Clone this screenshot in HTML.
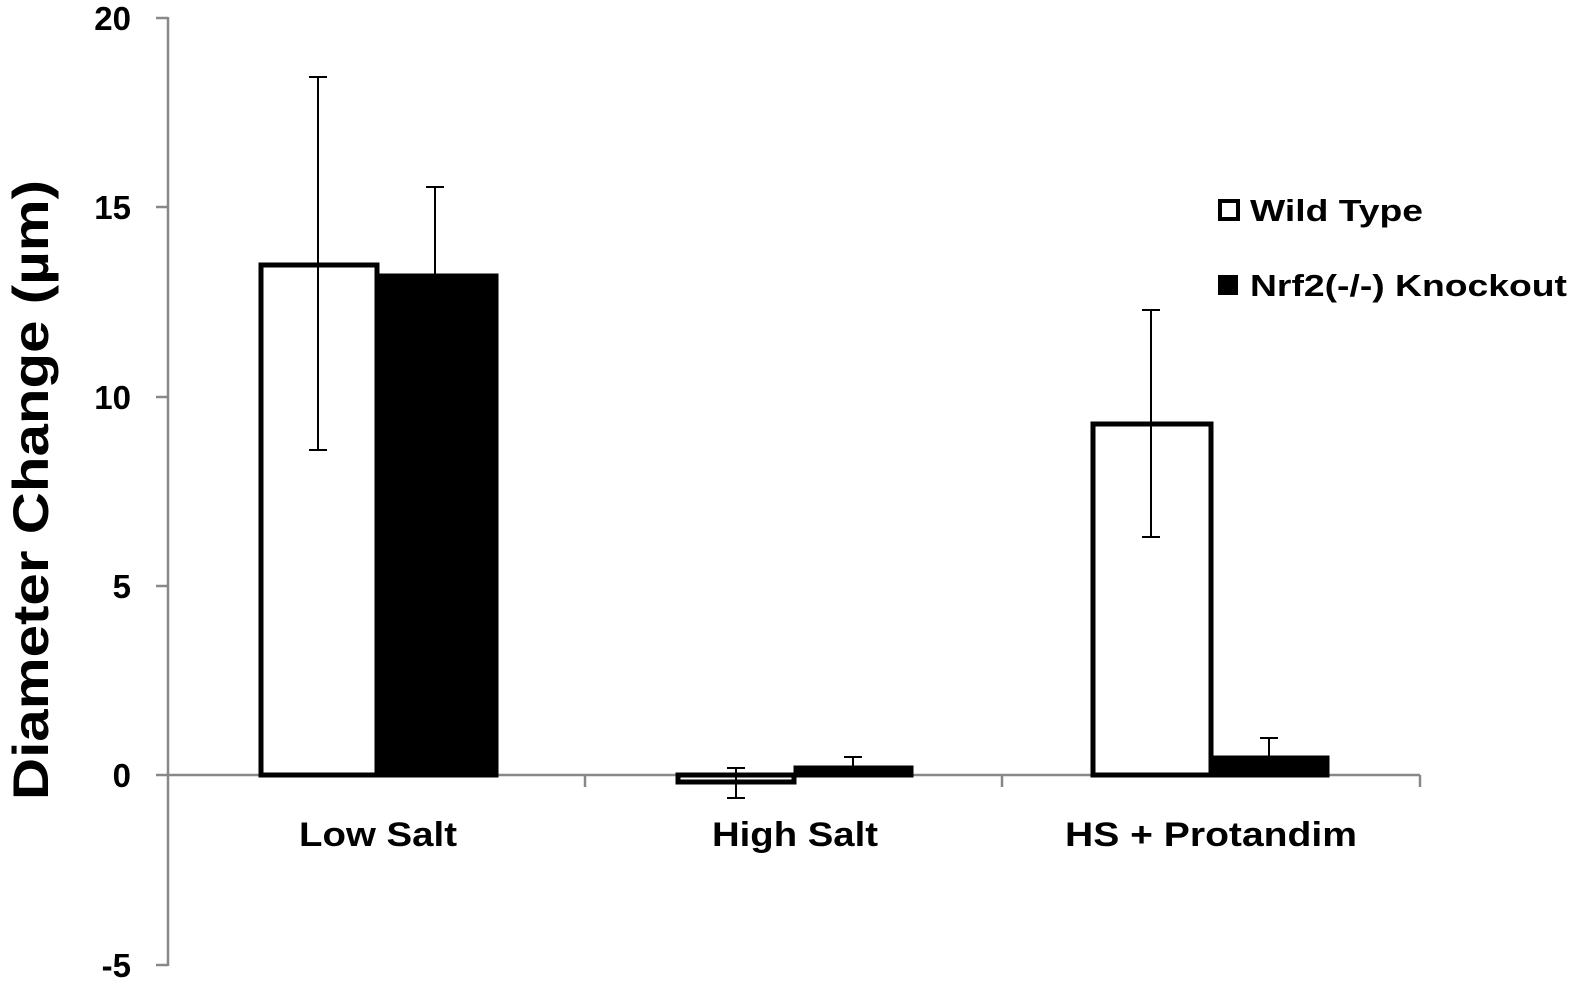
<!DOCTYPE html>
<html><head><meta charset="utf-8"><style>body{margin:0;background:#fff}svg{display:block}</style></head>
<body>
<svg width="1579" height="987" viewBox="0 0 1579 987" xmlns="http://www.w3.org/2000/svg" font-family="Liberation Sans, sans-serif" font-weight="bold">
<g stroke="#888" stroke-width="2.5" fill="none">
<line x1="168" y1="17" x2="168" y2="966"/>
<line x1="156" y1="18" x2="168" y2="18"/>
<line x1="156" y1="207" x2="168" y2="207"/>
<line x1="156" y1="397" x2="168" y2="397"/>
<line x1="156" y1="586" x2="168" y2="586"/>
<line x1="156" y1="775" x2="168" y2="775"/>
<line x1="156" y1="965" x2="168" y2="965"/>
<line x1="168" y1="775" x2="1420" y2="775"/>
<line x1="585" y1="775" x2="585" y2="787"/>
<line x1="1002" y1="775" x2="1002" y2="787"/>
<line x1="1420" y1="775" x2="1420" y2="787"/>
</g>
<g font-size="33" text-anchor="end" fill="#000">
<text x="131" y="30">20</text><text x="131" y="219">15</text><text x="131" y="409">10</text>
<text x="131" y="598">5</text><text x="131" y="787">0</text><text x="131" y="977">-5</text>
</g>
<text transform="translate(48,490) rotate(-90)" font-size="50" text-anchor="middle" textLength="620" lengthAdjust="spacingAndGlyphs">Diameter Change (µm)</text>
<g font-size="34" text-anchor="middle">
<text x="378" y="846" textLength="158" lengthAdjust="spacingAndGlyphs">Low Salt</text>
<text x="795" y="846" textLength="166" lengthAdjust="spacingAndGlyphs">High Salt</text>
<text x="1211" y="846" textLength="292" lengthAdjust="spacingAndGlyphs">HS + Protandim</text>
</g>
<g stroke="#000" stroke-width="5">
<rect x="261" y="265" width="116" height="510" fill="#fff"/>
<rect x="378" y="276" width="118" height="499" fill="#000"/>
<rect x="678" y="775" width="116" height="7" fill="#fff"/>
<rect x="796" y="768" width="115" height="7" fill="#000"/>
<rect x="1093" y="424" width="118" height="351" fill="#fff"/>
<rect x="1212" y="758" width="115" height="17" fill="#000"/>
</g>
<g stroke="#000" stroke-width="2">
<line x1="318" y1="77" x2="318" y2="450"/><line x1="309" y1="77" x2="327" y2="77"/><line x1="309" y1="450" x2="327" y2="450"/>
<line x1="435" y1="187" x2="435" y2="276"/><line x1="426" y1="187" x2="444" y2="187"/>
<line x1="736" y1="768" x2="736" y2="798"/><line x1="727" y1="768" x2="745" y2="768"/><line x1="727" y1="798" x2="745" y2="798"/>
<line x1="853" y1="757" x2="853" y2="768"/><line x1="844" y1="757" x2="862" y2="757"/>
<line x1="1151" y1="310" x2="1151" y2="537"/><line x1="1142" y1="310" x2="1160" y2="310"/><line x1="1142" y1="537" x2="1160" y2="537"/>
<line x1="1269" y1="738" x2="1269" y2="758"/><line x1="1260" y1="738" x2="1278" y2="738"/>
</g>
<rect x="1220" y="201" width="18" height="18" fill="#fff" stroke="#000" stroke-width="4"/>
<rect x="1218" y="275" width="20" height="20" fill="#000"/>
<g font-size="31">
<text x="1250" y="221" textLength="173" lengthAdjust="spacingAndGlyphs">Wild Type</text>
<text x="1250" y="296" textLength="317" lengthAdjust="spacingAndGlyphs">Nrf2(-/-) Knockout</text>
</g>
</svg>
</body></html>
